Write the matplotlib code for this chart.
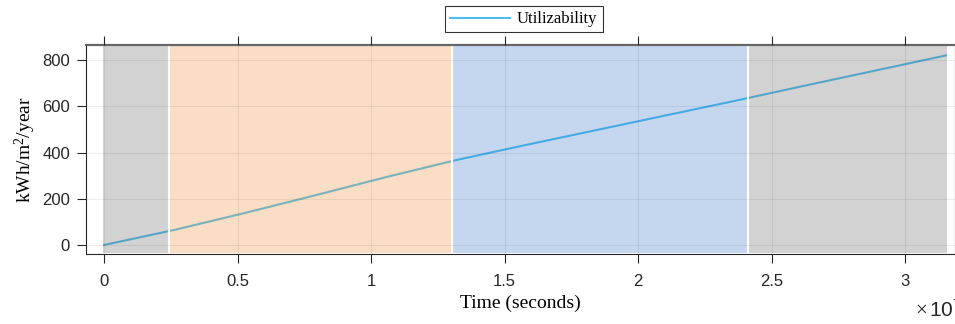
import matplotlib
matplotlib.use("Agg")
import matplotlib.pyplot as plt
from matplotlib.ticker import FuncFormatter

plt.rcParams['font.family'] = 'Liberation Sans'
plt.rcParams['mathtext.fontset'] = 'custom'
plt.rcParams['mathtext.rm'] = 'Liberation Serif'
plt.rcParams['mathtext.it'] = 'Liberation Serif:italic'

# time (s) and cumulative utilizability (kWh/m^2/year)
time_s = [0, 2.63e6, 5.26e6, 7.88e6, 1.051e7, 1.314e7, 1.577e7,
          1.840e7, 2.102e7, 2.365e7, 2.628e7, 2.891e7, 3.154e7]
utilizability = [0, 65, 138, 214, 292, 366, 432, 496, 560, 624, 690, 755, 820]

# shaded periods (start, end) in seconds
period_edges = [(-0.07e6, 2.45e6), (2.45e6, 1.305e7), (1.305e7, 2.41e7), (2.41e7, 3.16e7)]
period_colors = [(0.42, 0.42, 0.42, 0.3), (0.93, 0.58, 0.25, 0.3),
                 (0.24, 0.49, 0.79, 0.3), (0.42, 0.42, 0.42, 0.3)]

fig = plt.figure(figsize=(9.55, 3.24), dpi=100)
ax = fig.add_axes([86/955, 70/324, 869/955, 209/324])

ax.plot(time_s, utilizability, color='#4DBEEE', lw=1.5, label='Utilizability', zorder=1)
for (a, b), c in zip(period_edges, period_colors):
    ax.axvspan(a, b, facecolor=c, edgecolor='white', lw=1.5, zorder=1.5)

ax.set_xlim(-0.0674e7, 3.187e7)
ax.set_ylim(-39, 865)
ax.set_xticks([0, 0.5e7, 1e7, 1.5e7, 2e7, 2.5e7, 3e7])
ax.set_yticks([0, 200, 400, 600, 800])
ax.xaxis.set_major_formatter(FuncFormatter(lambda v, p: f'{v/1e7:g}'))

ax.grid(True, color=(0.15, 0.15, 0.15), alpha=0.08, lw=0.8)
ax.set_axisbelow(False)
ax.tick_params(direction='out', length=6.5, width=0.8, top=True, right=True,
               labelsize=12, colors=(0.15, 0.15, 0.15), labelcolor=(0.15, 0.15, 0.15))
ax.tick_params(axis='x', pad=8)
ax.tick_params(axis='y', pad=5)
for s in ['left', 'bottom']:
    ax.spines[s].set_color((0.15, 0.15, 0.15))
ax.spines['top'].set_color((0.4, 0.4, 0.4))
ax.spines['top'].set_linewidth(1.6)

ax.set_xlabel('Time (seconds)', family='Liberation Serif', fontsize=14, labelpad=4)
ax.set_ylabel('kWh/m$^2$/year', family='Liberation Serif', fontsize=14, labelpad=3)
fig.text(915/955, 3/324, r'$\times\,\mathregular{10^7}$', fontsize=15, color=(0.15, 0.15, 0.15),
         family='Liberation Sans', ha='left', va='bottom')

ax.legend(loc='lower center', bbox_to_anchor=(0.504, 1.06), frameon=True, fancybox=False,
          edgecolor='black', prop={'family': 'Liberation Serif', 'size': 12},
          handlelength=3.6, borderpad=0.3, handletextpad=0.4, borderaxespad=0)
ax.get_legend().get_frame().set_linewidth(0.8)

fig.savefig('out.png', dpi=100)
